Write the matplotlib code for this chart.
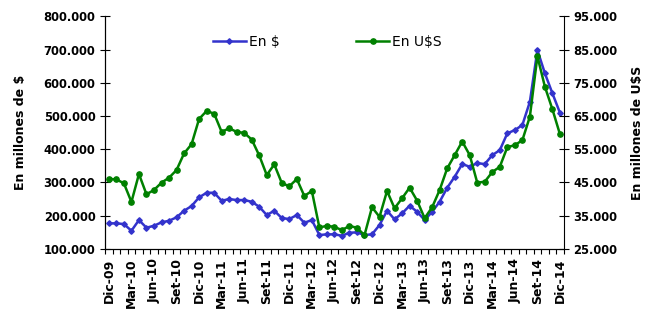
import numpy as np
import matplotlib
matplotlib.use('Agg')
from matplotlib import pyplot as plt
from matplotlib.ticker import FuncFormatter, MultipleLocator

# monthly values, Dic-09 .. Dic-14
en_pesos = [176.5, 176.5, 174.4, 154.2, 186.4, 163.3, 169.3, 179.5, 184.3, 194.6,
            214.5, 228.6, 254.8, 268.7, 268.7, 244.6, 249.7, 246.7, 246.7, 241.6,
            226.5, 201.5, 214.5, 192.5, 189.5, 201.5, 178.3, 186.4, 141.3, 143.4,
            143.4, 139.2, 148.2, 149.4, 141.3, 143.4, 171.4, 214.5, 188.6, 206.6,
            229.5, 211.4, 186.4, 211.4, 241.6, 283.7, 316.9, 355.1, 347.0, 358.0,
            355.0, 382.0, 397.0, 447.6, 457.5, 472.6, 542.8, 698.5, 628.3, 568.0,
            509.6]  # miles de millones $
en_usd = [46.0, 45.9, 44.7, 39.1, 47.5, 41.4, 42.7, 44.9, 46.4, 48.7,
          53.7, 56.5, 64.1, 66.5, 65.7, 60.2, 61.3, 60.2, 59.9, 57.9,
          53.1, 47.2, 50.4, 44.8, 43.8, 46.0, 40.9, 42.4, 31.4, 31.9,
          31.6, 30.6, 31.9, 31.3, 29.1, 37.5, 34.6, 42.4, 37.2, 40.2,
          43.4, 39.5, 34.2, 37.5, 42.7, 49.2, 53.2, 57.3, 53.2, 44.9,
          45.2, 48.1, 49.7, 55.6, 56.2, 57.7, 64.8, 83.0, 73.8, 67.0,
          59.5]  # miles de millones U$S
tick_labels = ['Dic-09', 'Mar-10', 'Jun-10', 'Set-10', 'Dic-10', 'Mar-11', 'Jun-11',
               'Set-11', 'Dic-11', 'Mar-12', 'Jun-12', 'Set-12', 'Dic-12', 'Mar-13',
               'Jun-13', 'Set-13', 'Dic-13', 'Mar-14', 'Jun-14', 'Set-14', 'Dic-14']

pesos = np.array(en_pesos) * 1000
usd = np.array(en_usd) * 1000
x = np.arange(len(pesos))

fmt = FuncFormatter(lambda v, p: f'{v:,.0f}'.replace(',', '.'))

fig = plt.figure(figsize=(6.57, 3.09), dpi=100)
ax = fig.add_axes([0.16, 0.195, 0.698, 0.752])
ax2 = ax.twinx()

l1, = ax.plot(x, pesos, color='#3333CC', lw=1.8, marker='D', ms=2.8, label='En $')
l2, = ax2.plot(x, usd, color='#008000', lw=1.8, marker='o', ms=3.8, label='En U$S')

ax.set_xlim(-0.5, len(x) - 0.5)
ax.set_ylim(100000, 800000)
ax2.set_ylim(25000, 95000)
ax.yaxis.set_major_locator(MultipleLocator(100000))
ax2.set_yticks(np.arange(25000, 95001, 10000))
ax.yaxis.set_major_formatter(fmt)
ax2.yaxis.set_major_formatter(fmt)

# tick marks at month boundaries, labels every quarter
ax.set_xticks(np.arange(-0.5, len(x), 1))
ax.set_xticklabels([])
ax.set_xticks(x[::3], labels=tick_labels, minor=True)
ax.tick_params(axis='x', which='major', direction='out', length=3.5, width=0.8)
ax.tick_params(axis='x', which='minor', length=0, pad=7)
for t in ax.get_xticklabels(minor=True):
    t.set_rotation(90)
    t.set_fontweight('bold')
    t.set_fontsize(9)

ax.tick_params(axis='y', direction='inout', length=7, width=0.8, labelsize=8.3)
ax2.tick_params(axis='y', direction='inout', length=7, width=0.8, labelsize=8.3)
for t in ax.get_yticklabels() + ax2.get_yticklabels():
    t.set_fontweight('bold')

for a in (ax, ax2):
    a.spines['top'].set_visible(False)
ax.spines['right'].set_visible(False)

ax.set_ylabel('En millones de $', fontsize=9, fontweight='bold', labelpad=12)
ax2.set_ylabel('En millones de U$S', fontsize=9, fontweight='bold', labelpad=10)

fig.legend(handles=[l1, l2], loc='center', bbox_to_anchor=(0.498, 0.864), ncol=2,
           frameon=False, fontsize=10, handlelength=2.4, handletextpad=0.2,
           columnspacing=5.5)

fig.savefig('out.png', dpi=100)
